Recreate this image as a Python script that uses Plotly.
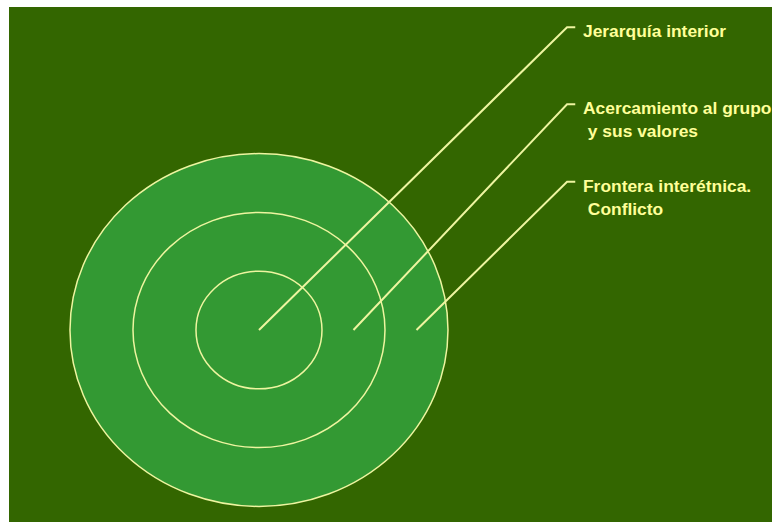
import numpy as np
import plotly.graph_objects as go

# ---- data ----
radii = [1, 2, 3]                      # concentric ring radii
labels = ["Jerarquía interior",
          "Acercamiento al grupo<br>\u00a0y sus valores",
          "Frontera interétnica.<br>\u00a0Conflicto"]
leader_start = [0, 1.5, 2.5]           # where each leader starts (ring position)

# ---- layout constants (positions / styles) ----
elbow_x = 4.89
elbow_y = [5.15, 3.84, 2.52]
tail = 0.13
text_x = 5.11
text_y = [5.289, 3.980, 2.653]

BG = "#336600"
FILL = "#339933"
LINE = "#eef5a0"
TEXT = "#ffff99"

fig = go.Figure()

shapes = []
rmax = max(radii)
shapes.append(dict(type="circle", xref="x", yref="y", x0=-rmax, x1=rmax, y0=-rmax, y1=rmax,
                   fillcolor=FILL, line=dict(color=LINE, width=1.5), layer="below"))
for r in radii[:-1]:
    shapes.append(dict(type="circle", xref="x", yref="y", x0=-r, x1=r, y0=-r, y1=r,
                       fillcolor="rgba(0,0,0,0)", line=dict(color=LINE, width=1.5), layer="below"))

for s, ey in zip(leader_start, elbow_y):
    fig.add_trace(go.Scatter(x=[s, elbow_x, elbow_x + tail], y=[0, ey, ey],
                             mode="lines", line=dict(color=LINE, width=2),
                             hoverinfo="skip", showlegend=False))

annotations = []
for lab, ty in zip(labels, text_y):
    annotations.append(dict(x=text_x, y=ty, xref="x", yref="y", text=lab, showarrow=False,
                            xanchor="left", yanchor="top", align="left",
                            font=dict(family="Liberation Sans, Arial, sans-serif", size=17.4,
                                      color=TEXT, weight="bold")))

fig.update_layout(
    width=763, height=515, autosize=False,
    margin=dict(l=0, t=0, r=0, b=0, pad=0),
    paper_bgcolor=BG, plot_bgcolor=BG,
    shapes=shapes, annotations=annotations,
    xaxis=dict(range=[-3.968, 8.143], visible=False, fixedrange=True),
    yaxis=dict(range=[-3.265, 5.493], visible=False, fixedrange=True),
    showlegend=False,
)

fig.write_html("out.html", config={"displayModeBar": False},
               post_script="document.body.style.margin='7px 0 0 9px';"
                           "document.body.style.overflow='hidden';"
                           "document.documentElement.style.overflow='hidden';")
